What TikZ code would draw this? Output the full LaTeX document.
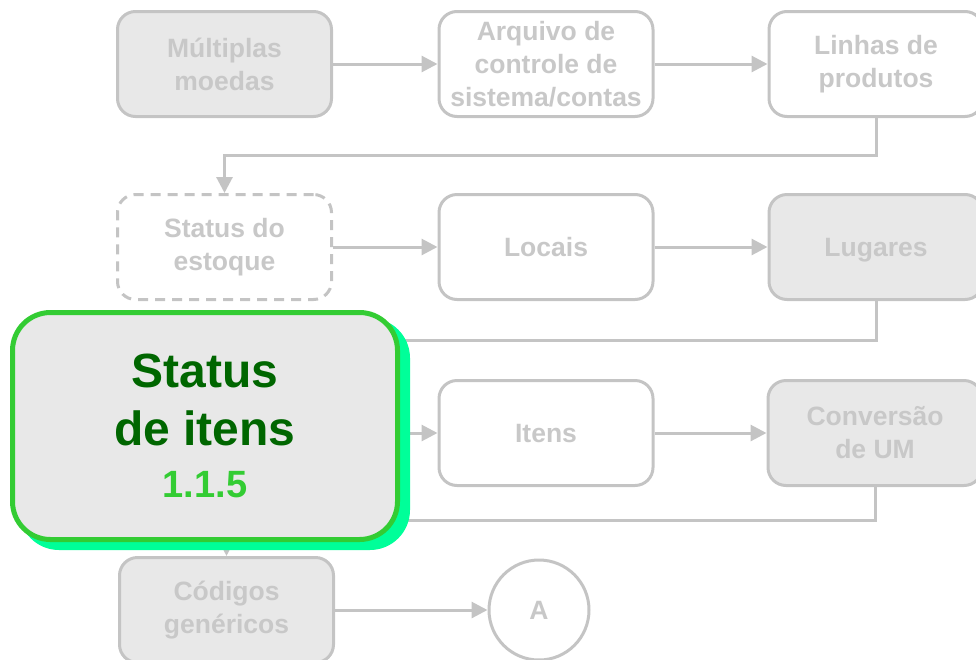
\documentclass[tikz,border=0pt]{standalone}
\usepackage{fontspec}
\setmainfont{Liberation Sans}
\usetikzlibrary{arrows.meta,shapes.geometric}
\definecolor{lg}{HTML}{C4C4C4}
\definecolor{lgtext}{HTML}{C8C8C8}
\definecolor{fillg}{HTML}{E8E8E8}
\definecolor{hgreen}{HTML}{33CC33}
\definecolor{dgreen}{HTML}{006600}
\definecolor{sgreen}{HTML}{00FF99}
\tikzset{
  gbox/.style={draw=lg, line width=3pt, rounded corners=18pt, minimum width=214pt, minimum height=105pt,
    align=center, text=lgtext, inner sep=0pt, font=\bfseries\fontsize{26.5}{33}\selectfont},
  gfill/.style={gbox, fill=fillg},
  gwhite/.style={gbox, fill=white},
  gdash/.style={gbox, fill=white, dash pattern=on 10pt off 7pt},
  oneline/.style={text height=19pt, text depth=0pt},
  conn/.style={draw=lg, line width=3pt, -{Triangle[length=16pt,width=16pt]}},
}
\begin{document}
\begin{tikzpicture}[x=1pt,y=-1pt]
\useasboundingbox (0,0) rectangle (976,659);
% row 1
\node[gfill]  (mm) at (224.5,64) {Múltiplas\\moedas};
\node[gwhite] (ac) at (546,64) {Arquivo de\\controle de\\sistema/contas};
\node[gwhite] (lp) at (876,64) {Linhas de\\produtos};
% row 2
\node[gdash]  (se) at (224.5,247) {Status do\\estoque};
\node[gwhite, oneline] (lo) at (546,247) {Locais};
\node[gfill, oneline]  (lu) at (876,247) {Lugares};
% row 3
\node[gwhite, oneline] (it) at (546,433) {Itens};
\node[gfill]  (cu) at (875,433) {Conversão\\de UM};
\coordinate (sitop) at (224.5,378);
% row 4
\node[gfill]  (cg) at (226.5,610) {Códigos\\genéricos};
\node[draw=lg, line width=3pt, circle, minimum size=100pt, inner sep=0pt, fill=white, text=lgtext, oneline,
  font=\bfseries\fontsize{26.5}{33}\selectfont] (A) at (539,610) {A};
% connectors
\draw[conn] (mm) -- (ac);
\draw[conn] (ac) -- (lp);
\coordinate (c1) at (876,155);
\coordinate (c1b) at (224.5,155);
\draw[conn] (lp.south) -- (c1) -- (c1b) -- (se.north);
\draw[conn] (se) -- (lo);
\draw[conn] (lo) -- (lu);
\coordinate (c2) at (876,340);
\coordinate (c2b) at (224.5,340);
\draw[conn] (lu.south) -- (c2) -- (c2b) -- (sitop);
\draw[conn] (it) -- (cu);
\coordinate (c3) at (875,520);
\coordinate (c3b) at (226.5,520);
\draw[conn] (cu.south) -- (c3) -- (c3b) -- (cg.north);
\draw[conn] (cg) -- (A);
\coordinate (siarr) at (390,433);
\draw[conn] (siarr) -- (it);
% highlighted node
\fill[sgreen, rounded corners=40pt] (19,318) rectangle (410,550);
\node[draw=hgreen, line width=5pt, fill=fillg, rounded corners=38pt, minimum width=385pt, minimum height=227pt,
  align=center, inner sep=0pt, text=dgreen, font=\bfseries\fontsize{48}{58}\selectfont] (si) at (205,426)
  {Status\\de itens\\[-6pt]{\color{hgreen}\fontsize{38}{44}\selectfont 1.1.5}};
\end{tikzpicture}
\end{document}
